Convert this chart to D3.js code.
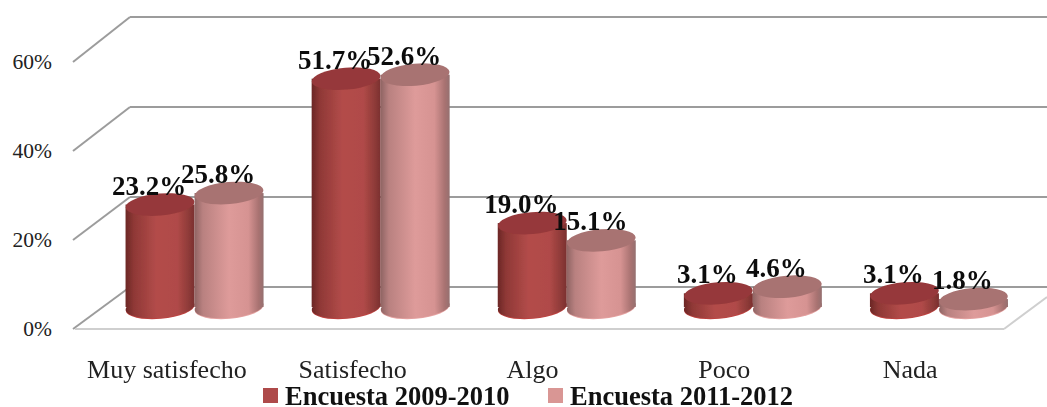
<!DOCTYPE html>
<html lang="es">
    <head>
        <meta charset="utf-8">
        <title>Encuesta</title>
        <script src="https://d3js.org/d3.v7.min.js"></script>
        <style type="text/css">
            html, body { margin: 0; padding: 0; background: #fff; }
            svg { display: block; }
            text { font-family: "Liberation Serif", serif; fill: #111; }
            .tick-label { font-size: 21.5px; fill: #222; }
            .cat-label { font-size: 26px; fill: #222; }
            .value-label { font-size: 27px; font-weight: bold; fill: #0c0c0c; }
            .legend-label { font-size: 26.5px; font-weight: bold; fill: #111; }
            .grid { stroke: #9c9c9c; stroke-width: 2px; fill: none; }
            .floor { stroke: #cfcfcf; stroke-width: 2px; fill: none; }
        </style>
    </head>
    <body>
        <script type="text/javascript">

            //data
            const categories = ["Muy satisfecho", "Satisfecho", "Algo", "Poco", "Nada"];
            const seriesNames = ["Encuesta 2009-2010", "Encuesta 2011-2012"];
            const values2009 = [23.2, 51.7, 19.0, 3.1, 3.1];
            const values2011 = [25.8, 52.6, 15.1, 4.6, 1.8];
            const tickValues = [0, 20, 40, 60];

            const w = 1047;
            const h = 407;

            const svg = d3.select("body").append("svg")
                .attr("width", w)
                .attr("height", h);

            //scales - front edge of floor, back wall, bars
            const yFront = d3.scaleLinear().domain([0, 60]).range([329, 62]);
            const yBack = d3.scaleLinear().domain([0, 60]).range([287, 17]);
            const yBar = d3.scaleLinear().domain([0, 60]).range([307, 42]);

            const xCat = d3.scaleBand().domain(categories).range([101.5, 1032]);
            const xSeries = d3.scaleBand().domain(seriesNames).range([-69, 69]);
            const xLabel = d3.scaleBand().domain(categories).range([74, 1003]);

            const frontX = 73;
            const backX = 130;

            //gradients
            const defs = svg.append("defs");
            const addGradient = (id, stops) => {
                const g = defs.append("linearGradient").attr("id", id);
                stops.forEach(s => g.append("stop").attr("offset", s[0]).attr("stop-color", s[1]));
            };
            addGradient("grad0", [[0, "#6b2725"], [0.12, "#8f3836"], [0.45, "#b34c4a"], [0.75, "#b04a48"], [0.92, "#8d3a38"], [1, "#7a302e"]]);
            addGradient("grad1", [[0, "#8f6463"], [0.12, "#b98180"], [0.5, "#de9b9a"], [0.78, "#d69392"], [0.93, "#a87271"], [1, "#957070"]]);
            const topColors = ["#96393a", "#a87372"];
            const bottomEdge = ["#c0413f", "#e6a3a2"];
            const legendColors = ["#ae4a4a", "#d99694"];

            defs.append("filter").attr("id", "soft")
                .append("feGaussianBlur").attr("stdDeviation", 0.5);

            //walls
            const walls = svg.append("g").attr("class", "walls");
            tickValues.forEach(t => {
                walls.append("line").attr("class", "grid")
                    .attr("x1", frontX).attr("y1", yFront(t))
                    .attr("x2", backX).attr("y2", yBack(t));
                walls.append("line").attr("class", "grid")
                    .attr("x1", backX).attr("y1", yBack(t))
                    .attr("x2", w).attr("y2", yBack(t));
            });
            walls.append("line").attr("class", "floor")
                .attr("x1", frontX + 2).attr("y1", yFront(0))
                .attr("x2", 1004).attr("y2", yFront(0));
            walls.append("line").attr("class", "floor")
                .attr("x1", 1004).attr("y1", yFront(0))
                .attr("x2", w).attr("y2", 297);

            //tick labels
            svg.selectAll(".tick-label")
                .data(tickValues)
                .enter().append("text")
                .attr("class", "tick-label")
                .attr("x", 52)
                .attr("y", d => yFront(d) + 7)
                .attr("text-anchor", "end")
                .text(d => d + "%");

            //cylinders
            const rx = 34.5;
            const ry = 11;
            const tilt = -5;
            const allSeries = [values2009, values2011];

            const bars = svg.append("g").attr("filter", "url(#soft)");
            categories.forEach((cat, i) => {
                allSeries.forEach((vals, s) => {
                    const cx = xCat(cat) + xCat.bandwidth() / 2 + xSeries(seriesNames[s]) + xSeries.bandwidth() / 2;
                    const top = yBar(vals[i]);
                    const base = yBar(0);
                    const g = bars.append("g");
                    g.append("ellipse")
                        .attr("cx", cx).attr("cy", base + 0.8)
                        .attr("rx", rx).attr("ry", ry)
                        .attr("transform", "rotate(" + tilt + " " + cx + " " + base + ")")
                        .attr("fill", bottomEdge[s]);
                    g.append("ellipse")
                        .attr("cx", cx).attr("cy", base)
                        .attr("rx", rx).attr("ry", ry)
                        .attr("transform", "rotate(" + tilt + " " + cx + " " + base + ")")
                        .attr("fill", "url(#grad" + s + ")");
                    g.append("rect")
                        .attr("x", cx - rx).attr("y", top)
                        .attr("width", rx * 2).attr("height", base - top)
                        .attr("fill", "url(#grad" + s + ")");
                    g.append("ellipse")
                        .attr("cx", cx).attr("cy", top)
                        .attr("rx", rx).attr("ry", ry)
                        .attr("transform", "rotate(" + tilt + " " + cx + " " + top + ")")
                        .attr("fill", topColors[s]);
                });
            });

            //value labels
            categories.forEach((cat, i) => {
                allSeries.forEach((vals, s) => {
                    const cx = xCat(cat) + xCat.bandwidth() / 2 + xSeries(seriesNames[s]) + xSeries.bandwidth() / 2;
                    svg.append("text")
                        .attr("class", "value-label")
                        .attr("x", cx - 11)
                        .attr("y", yBar(vals[i]) - 10)
                        .attr("text-anchor", "middle")
                        .text(vals[i].toFixed(1) + "%");
                });
            });

            //category labels
            svg.selectAll(".cat-label")
                .data(categories)
                .enter().append("text")
                .attr("class", "cat-label")
                .attr("x", d => xLabel(d) + xLabel.bandwidth() / 2 - (d === "Algo" ? 6 : 0))
                .attr("y", 378)
                .attr("text-anchor", "middle")
                .text(d => d);

            //legend
            const legendX = [263, 548];
            seriesNames.forEach((name, s) => {
                svg.append("rect")
                    .attr("x", legendX[s]).attr("y", 388)
                    .attr("width", 15).attr("height", 15)
                    .attr("fill", legendColors[s]);
                svg.append("text")
                    .attr("class", "legend-label")
                    .attr("x", legendX[s] + 22)
                    .attr("y", 405)
                    .text(name);
            });

        </script>
    </body>
</html>
